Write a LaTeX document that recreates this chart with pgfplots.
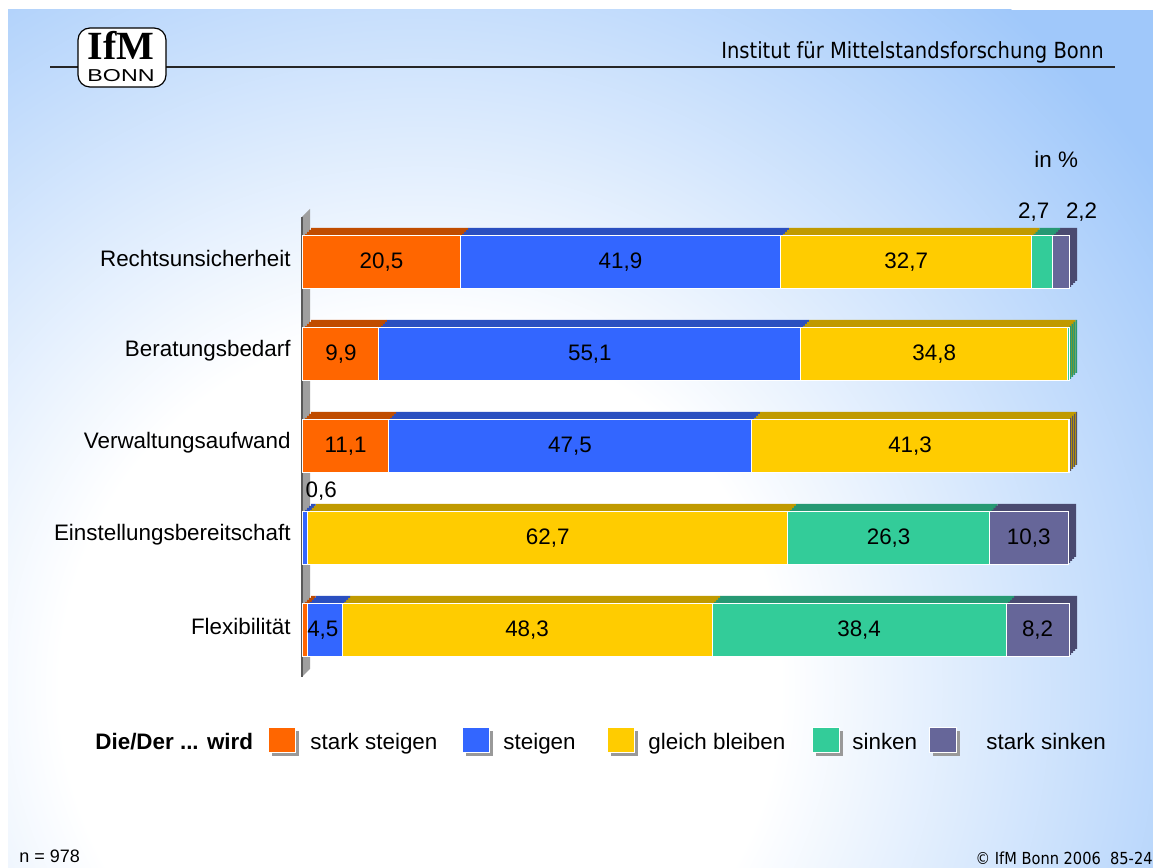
\documentclass[border=0pt]{standalone}
\usepackage{fontspec}
\setmainfont{Liberation Sans}
\newfontfamily\tahoma[FakeStretch=0.88]{DejaVu Sans}
\newfontfamily\logoserif{Liberation Serif}
\usepackage{pgfplots}
\usepackage{pgfplotstable}
\pgfplotsset{compat=1.18}

\definecolor{cSS}{HTML}{FF6600}\definecolor{tSS}{HTML}{C04C00}
\definecolor{cST}{HTML}{3366FF}\definecolor{tST}{HTML}{2A4FC0}
\definecolor{cGB}{HTML}{FFCC00}\definecolor{tGB}{HTML}{C09A00}
\definecolor{cSK}{HTML}{33CC99}\definecolor{tSK}{HTML}{269973}
\definecolor{cSSK}{HTML}{666699}\definecolor{tSSK}{HTML}{4A4A70}
\definecolor{bgblue}{RGB}{160,200,250}
\pgfdeclareradialshading{bgshade}{\pgfpoint{0bp}{0bp}}{color(0bp)=(white); color(10bp)=(white); color(25bp)=(bgblue); color(50bp)=(bgblue)}

\newcommand\lbfont{\fontsize{11.2}{13}\selectfont}

% rows: 0 Flexibilitaet ... 4 Rechtsunsicherheit; dx, dy = label offset in px
\pgfplotstableread{
idx val lab dx dy
0 0.6 {} 0 0
1 0.0 {} 0 0
2 11.1 11,1 0 0
3 9.9 9,9 0 0
4 20.5 20,5 0 0
}\tss
\pgfplotstableread{
idx val lab dx dy
0 4.5 4,5 -2 0
1 0.6 0,6 16 47
2 47.5 47,5 0 0
3 55.1 55,1 0 0
4 41.9 41,9 0 0
}\tst
\pgfplotstableread{
idx val lab dx dy
0 48.3 48,3 0 0
1 62.7 62,7 0 0
2 41.3 41,3 0 0
3 34.8 34,8 0 0
4 32.7 32,7 0 0
}\tgb
\pgfplotstableread{
idx val lab dx dy
0 38.4 38,4 0 0
1 26.3 26,3 0 0
2 0.0 {} 0 0
3 0.2 {} 0 0
4 2.7 2,7 -8 50
}\tsk
\pgfplotstableread{
idx val lab dx dy
0 8.2 8,2 0 0
1 10.3 10,3 0 0
2 0.1 {} 0 0
3 0.0 {} 0 0
4 2.2 2,2 21 50
}\tssk

\pgfplotsset{
  barax/.style={
    at={(151.5pt,95.75pt)}, anchor=south west,
    x=3.83pt, y=46pt, xmin=0, xmax=100, ymin=-0.5, ymax=4.5,
    enlargelimits=false, xbar stacked, bar width=26.5pt, clip=false,
  },
  lbl/.style={
    point meta=explicit symbolic, nodes near coords,
    visualization depends on={\thisrow{dx} \as \ddx},
    visualization depends on={\thisrow{dy} \as \ddy},
    every node near coord/.append style={anchor=center, text=black, font=\lbfont,
      inner sep=0pt, xshift={\ddx*0.5pt}, yshift={\ddy*0.5pt}},
  },
  front/.style={fill=#1, draw=white, line width=0.5pt, lbl},
}

\begin{document}
\begin{tikzpicture}
\begin{scope}[x=0.5pt,y=0.5pt]
\useasboundingbox (0,0) rectangle (1153,868);
\fill[white] (0,0) rectangle (1153,868);
\begin{scope}
\clip (8,0) rectangle (1153,858);
\fill[bgblue] (8,0) rectangle (1153,858);
\shade[shading=bgshade] (420,180) circle (900);
\end{scope}
% header
\draw[line width=1pt, black!85] (50,801) -- (1115,801);
\node[anchor=base east, inner sep=0pt, font=\tahoma\fontsize{11.1}{13}\selectfont] at (1104,809) {Institut für Mittelstandsforschung Bonn};
\draw[fill=white, draw=black, line width=0.6pt, rounded corners=6] (78,781) rectangle (166,840);
\node[anchor=base, inner sep=0pt] at (121,786) {\shortstack{{\logoserif\bfseries\fontsize{20}{20}\selectfont IfM}\\[2pt]{\fontsize{8.6}{9}\selectfont\scalebox{1.35}[1]{BONN}}}};
\node[anchor=base west, inner sep=0pt, font=\lbfont] at (1034,700) {in \%};
% axis wall
\fill[gray!75] (302,191) -- (310,199) -- (310,659) -- (302,651) -- cycle;
\draw[line width=1pt, black!65] (302,191) -- (302,651);
% legend
\node[anchor=base west, inner sep=0pt, font=\lbfont\bfseries] at (95,118) {Die/Der ... wird};
\foreach \xx/\cc/\tx/\tt in {268/cSS/310/stark steigen, 462/cST/503/steigen, 607/cGB/648/gleich bleiben, 812/cSK/852/sinken, 929/cSSK/986/stark sinken}{
  \fill[gray!80] (\xx+4,112) rectangle (\xx+31,137);
  \draw[fill=\cc, draw=white, line width=0.4pt] (\xx,116) rectangle (\xx+27,141);
  \node[anchor=base west, inner sep=0pt, font=\lbfont] at (\tx,118) {\tt};
}
\node[anchor=base west, inner sep=0pt, font=\fontsize{9}{10}\selectfont] at (19,5) {n = 978};
\node[anchor=base east, inner sep=0pt, font=\tahoma\fontsize{8.3}{9}\selectfont] at (1153,3) {© IfM Bonn 2006\ \ 85-24};
\end{scope}

% depth of the bars: shifted copies behind the front faces
\foreach \d in {4,3,2,1}{
\begin{axis}[barax, hide axis, at={(151.5pt+\d pt,95.75pt+\d pt)}]
\addplot[fill=tSS, draw=none] table[x=val,y=idx]{\tss};
\addplot[fill=tST, draw=none] table[x=val,y=idx]{\tst};
\addplot[fill=tGB, draw=none] table[x=val,y=idx]{\tgb};
\addplot[fill=tSK, draw=none] table[x=val,y=idx]{\tsk};
\addplot[fill=tSSK, draw=none] table[x=val,y=idx]{\tssk};
\end{axis}
}

\begin{axis}[barax,
  axis x line=none, axis y line*=left, y axis line style={draw=none},
  major tick length=0pt, ytick style={draw=none},
  ytick={0,1,2,3,4},
  yticklabels={Flexibilität,Einstellungsbereitschaft,Verwaltungsaufwand,Beratungsbedarf,Rechtsunsicherheit},
  yticklabel style={font=\lbfont, inner sep=0pt, xshift=-6pt, yshift=2pt},
]
\addplot[front=cSS] table[x=val,y=idx,meta=lab]{\tss};
\addplot[front=cST] table[x=val,y=idx,meta=lab]{\tst};
\addplot[front=cGB] table[x=val,y=idx,meta=lab]{\tgb};
\addplot[front=cSK] table[x=val,y=idx,meta=lab]{\tsk};
\addplot[front=cSSK] table[x=val,y=idx,meta=lab]{\tssk};
\end{axis}
\end{tikzpicture}
\end{document}
